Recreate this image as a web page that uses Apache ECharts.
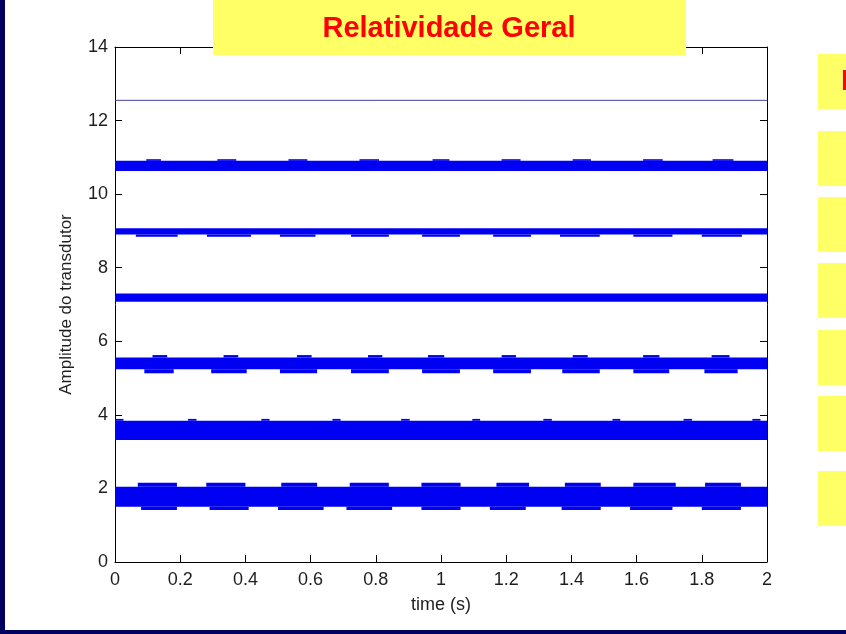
<!DOCTYPE html>
<html>
<head>
<meta charset="utf-8">
<script src="https://cdn.jsdelivr.net/npm/echarts@6/dist/echarts.min.js"></script>
<style>
  html, body { margin: 0; padding: 0; background: #ffffff; }
  #chart { width: 846px; height: 634px; }
</style>
</head>
<body>
<div id="chart"></div>
<script>
// Transducer amplitude traces over time (six oscillating channels + one steady line)
const timeExtent = [0, 2];
const steadyLevel = 12.55;

// Continuous envelope of each oscillating channel (lower / upper edge)
const bandLow  = [1.503, 3.315, 5.24, 7.075, 8.905, 10.63];
const bandHigh = [2.046, 3.84, 5.56, 7.30, 9.07, 10.905];

// Envelope reached during periodic bursts (null = no burst on that side)
const burstTopLevel    = [2.155, 3.89, 5.625, null, null, 10.95];
const burstBottomLevel = [1.413, null, 5.13, null, 8.84, null];

// Burst time windows [start, end] in seconds, per channel
const burstTopWindows = [
  [[0.07,0.19],[0.28,0.40],[0.51,0.62],[0.72,0.84],[0.94,1.06],[1.17,1.27],[1.38,1.49],[1.59,1.72],[1.81,1.92]],
  [[0.0,0.026],[0.224,0.25],[0.449,0.474],[0.667,0.692],[0.878,0.904],[1.096,1.12],[1.314,1.34],[1.526,1.55],[1.744,1.77],[1.955,1.98]],
  [[0.115,0.16],[0.333,0.378],[0.558,0.603],[0.776,0.82],[0.96,1.01],[1.186,1.23],[1.404,1.45],[1.62,1.67],[1.83,1.885]],
  [],
  [],
  [[0.096,0.141],[0.314,0.372],[0.532,0.59],[0.75,0.81],[0.974,1.026],[1.186,1.244],[1.404,1.46],[1.62,1.68],[1.833,1.897]]
];
const burstBottomWindows = [
  [[0.08,0.19],[0.29,0.41],[0.50,0.64],[0.71,0.85],[0.94,1.06],[1.15,1.26],[1.37,1.49],[1.58,1.71],[1.80,1.92]],
  [],
  [[0.09,0.18],[0.295,0.404],[0.506,0.62],[0.724,0.84],[0.942,1.058],[1.16,1.276],[1.372,1.487],[1.59,1.70],[1.808,1.91]],
  [],
  [[0.064,0.192],[0.282,0.417],[0.506,0.615],[0.724,0.84],[0.942,1.058],[1.16,1.276],[1.365,1.487],[1.59,1.71],[1.80,1.923]],
  []
];

const titleText = 'Relatividade Geral';
const xName = 'time (s)';
const yName = 'Amplitude do transdutor';

// Build [t0, t1, low, high] cells for each channel
function channelCells(i) {
  const cells = [[timeExtent[0], timeExtent[1], bandLow[i], bandHigh[i]]];
  burstTopWindows[i].forEach(w => cells.push([w[0], w[1], bandHigh[i], burstTopLevel[i]]));
  burstBottomWindows[i].forEach(w => cells.push([w[0], w[1], burstBottomLevel[i], bandLow[i]]));
  return cells;
}

const traceColor = '#0000f2';

function renderBand(params, api) {
  const p0 = api.coord([api.value(0), api.value(3)]);
  const p1 = api.coord([api.value(1), api.value(2)]);
  const cs = params.coordSys;
  const shape = echarts.graphic.clipRectByRect(
    { x: p0[0], y: p0[1], width: p1[0] - p0[0], height: p1[1] - p0[1] },
    { x: cs.x, y: cs.y, width: cs.width, height: cs.height }
  );
  return shape && { type: 'rect', shape: shape, style: { fill: traceColor } };
}

const series = bandLow.map((_, i) => ({
  type: 'custom',
  renderItem: renderBand,
  encode: { x: [0, 1], y: [2, 3] },
  data: channelCells(i),
  silent: true
}));
series.push({
  type: 'line',
  data: [[timeExtent[0], steadyLevel], [timeExtent[1], steadyLevel]],
  symbol: 'none',
  lineStyle: { color: '#3f3f9c', width: 1 },
  silent: true
});

const font = 'Arial, "Liberation Sans", Helvetica, sans-serif';
const tickStyle = { show: true, inside: true, length: 7, lineStyle: { color: '#000', width: 1 } };
const lineStyle = { show: true, onZero: false, lineStyle: { color: '#000', width: 1 } };
const labelStyle = { color: '#1e1e1e', fontFamily: font, fontSize: 18 };

const chart = echarts.init(document.getElementById('chart'), null, { renderer: 'canvas' });
chart.setOption({
  animation: false,
  backgroundColor: '#ffffff',
  grid: { left: 115, right: 79, top: 47, bottom: 72, show: false },
  xAxis: [
    {
      type: 'value', min: 0, max: 2, interval: 0.2, position: 'bottom',
      axisLine: lineStyle, axisTick: tickStyle, splitLine: { show: false },
      axisLabel: Object.assign({ margin: 9 }, labelStyle),
      name: xName, nameLocation: 'middle', nameGap: 34,
      nameTextStyle: { color: '#1e1e1e', fontFamily: font, fontSize: 18 }
    },
    {
      type: 'value', min: 0, max: 2, interval: 0.2, position: 'top',
      axisLine: lineStyle, axisTick: tickStyle, splitLine: { show: false },
      axisLabel: { show: false }
    }
  ],
  yAxis: [
    {
      type: 'value', min: 0, max: 14, interval: 2, position: 'left',
      axisLine: lineStyle, axisTick: tickStyle, splitLine: { show: false },
      axisLabel: Object.assign({ margin: 7 }, labelStyle),
      name: yName, nameLocation: 'middle', nameGap: 40, nameRotate: 90,
      nameTextStyle: { color: '#1e1e1e', fontFamily: font, fontSize: 17 }
    },
    {
      type: 'value', min: 0, max: 14, interval: 2, position: 'right',
      axisLine: lineStyle, axisTick: tickStyle, splitLine: { show: false },
      axisLabel: { show: false }
    }
  ],
  series: series,
  graphic: [
    // slide frame strips
    { type: 'rect', z: 50, shape: { x: 0, y: 0, width: 5, height: 634 }, style: { fill: '#00005e' } },
    { type: 'rect', z: 50, shape: { x: 0, y: 630, width: 846, height: 4 }, style: { fill: '#00005e' } },
    // title banner
    { type: 'rect', z: 50, shape: { x: 213, y: 0, width: 473, height: 55 }, style: { fill: '#ffff66' } },
    {
      type: 'text', z: 51, x: 449, y: 29,
      style: { text: titleText, fill: '#ff0000', font: 'bold 29px ' + font, align: 'center', verticalAlign: 'middle' }
    },
    // side panel boxes
    { type: 'rect', z: 50, shape: { x: 818, y: 54, width: 40, height: 55 }, style: { fill: '#ffff66' } },
    { type: 'text', z: 51, x: 841, y: 82, style: { text: 'R', fill: '#ff0000', font: 'bold 29px ' + font, align: 'left', verticalAlign: 'middle' } },
    { type: 'rect', z: 50, shape: { x: 818, y: 131, width: 40, height: 55 }, style: { fill: '#ffff66' } },
    { type: 'rect', z: 50, shape: { x: 818, y: 197, width: 40, height: 55 }, style: { fill: '#ffff66' } },
    { type: 'rect', z: 50, shape: { x: 818, y: 263, width: 40, height: 55 }, style: { fill: '#ffff66' } },
    { type: 'rect', z: 50, shape: { x: 818, y: 330, width: 40, height: 55 }, style: { fill: '#ffff66' } },
    { type: 'rect', z: 50, shape: { x: 818, y: 396, width: 40, height: 55 }, style: { fill: '#ffff66' } },
    { type: 'rect', z: 50, shape: { x: 818, y: 471, width: 40, height: 55 }, style: { fill: '#ffff66' } }
  ]
});
</script>
</body>
</html>
